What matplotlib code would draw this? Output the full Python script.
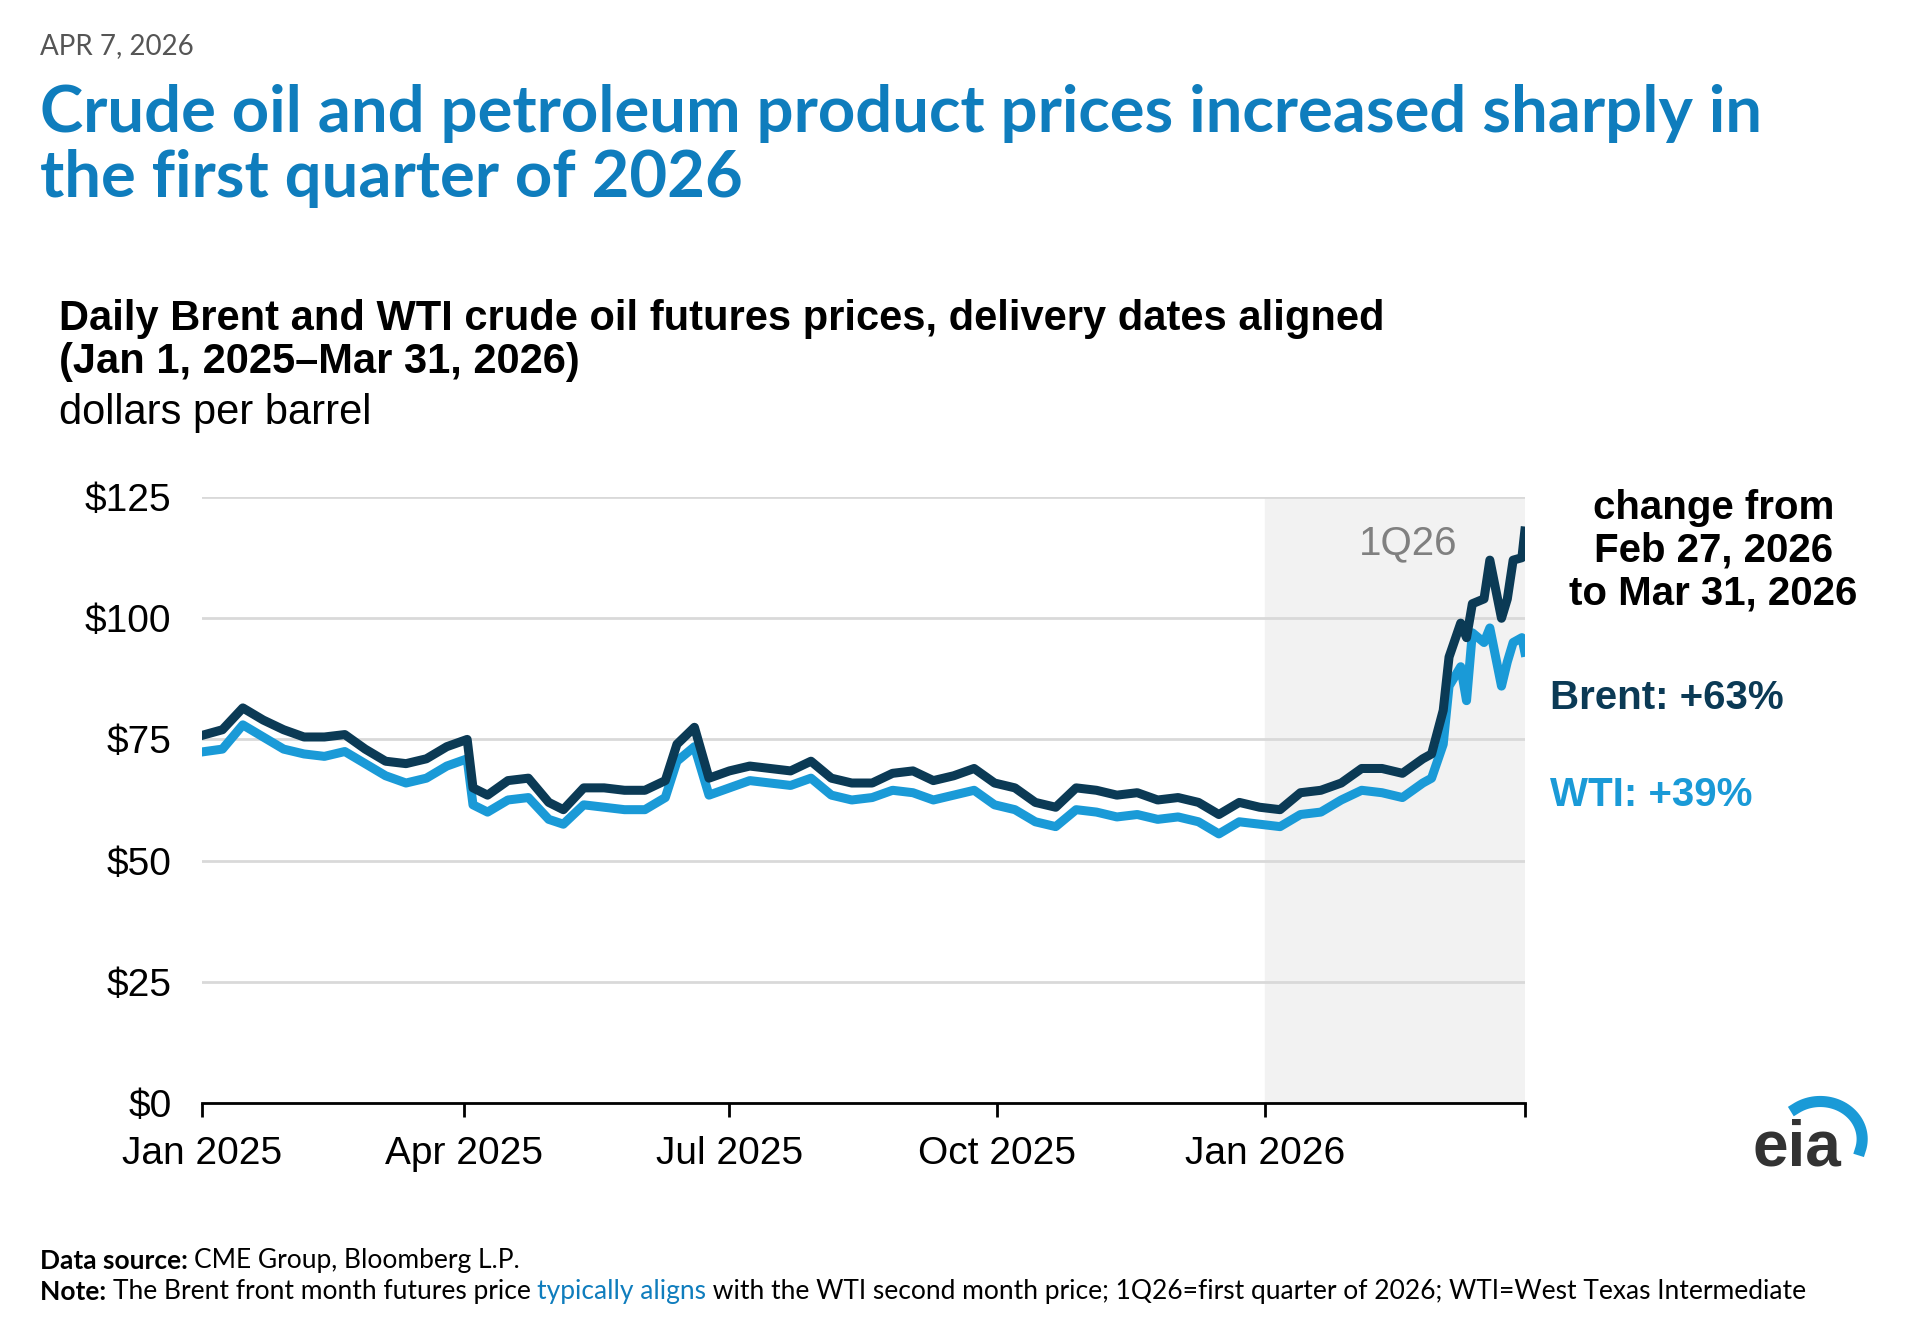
import matplotlib
matplotlib.use("Agg")
import matplotlib.pyplot as plt
import pandas as pd
import numpy as np

# weekly-ish readings off the chart, then daily in March 2026
dates = ["2025-01-02", "2025-01-08", "2025-01-15", "2025-01-22", "2025-01-29", "2025-02-05",
         "2025-02-12", "2025-02-19", "2025-02-26", "2025-03-05", "2025-03-12", "2025-03-19",
         "2025-03-26", "2025-04-02", "2025-04-04", "2025-04-09", "2025-04-16", "2025-04-23",
         "2025-04-30", "2025-05-05", "2025-05-12", "2025-05-19", "2025-05-26", "2025-06-02",
         "2025-06-09", "2025-06-13", "2025-06-19", "2025-06-24", "2025-07-01", "2025-07-08",
         "2025-07-15", "2025-07-22", "2025-07-29", "2025-08-05", "2025-08-12", "2025-08-19",
         "2025-08-26", "2025-09-02", "2025-09-09", "2025-09-16", "2025-09-23", "2025-09-30",
         "2025-10-07", "2025-10-14", "2025-10-21", "2025-10-28", "2025-11-04", "2025-11-11",
         "2025-11-18", "2025-11-25", "2025-12-02", "2025-12-09", "2025-12-16", "2025-12-23",
         "2025-12-30", "2026-01-06", "2026-01-13", "2026-01-20", "2026-01-27", "2026-02-03",
         "2026-02-10", "2026-02-17", "2026-02-24", "2026-02-27", "2026-03-03", "2026-03-05",
         "2026-03-09", "2026-03-11", "2026-03-13", "2026-03-17", "2026-03-19", "2026-03-23",
         "2026-03-25", "2026-03-27", "2026-03-30", "2026-03-31"]
brent = [76.0, 77.0, 81.5, 79.0, 77.0, 75.5, 75.5, 76.0, 73.0, 70.5, 70.0, 71.0,
         73.5, 75.0, 65.0, 63.5, 66.5, 67.0, 62.0, 60.5, 65.0, 65.0, 64.5, 64.5,
         66.5, 74.0, 77.5, 67.0, 68.5, 69.5, 69.0, 68.5, 70.5, 67.0, 66.0, 66.0,
         68.0, 68.5, 66.5, 67.5, 69.0, 66.0, 65.0, 62.0, 61.0, 65.0, 64.5, 63.5,
         64.0, 62.5, 63.0, 62.0, 59.5, 62.0, 61.0, 60.5, 64.0, 64.5, 66.0, 69.0,
         69.0, 68.0, 71.0, 72.0, 81.0, 92.0, 99.0, 96.0, 103.0, 104.0, 112.0, 100.0,
         104.0, 112.0, 112.5, 118.0]
wti = [72.5, 73.0, 78.0, 75.5, 73.0, 72.0, 71.5, 72.5, 70.0, 67.5, 66.0, 67.0,
       69.5, 71.0, 61.5, 60.0, 62.5, 63.0, 58.5, 57.5, 61.5, 61.0, 60.5, 60.5,
       63.0, 70.5, 73.5, 63.5, 65.0, 66.5, 66.0, 65.5, 67.0, 63.5, 62.5, 63.0,
       64.5, 64.0, 62.5, 63.5, 64.5, 61.5, 60.5, 58.0, 57.0, 60.5, 60.0, 59.0,
       59.5, 58.5, 59.0, 58.0, 55.5, 58.0, 57.5, 57.0, 59.5, 60.0, 62.5, 64.5,
       64.0, 63.0, 66.0, 67.0, 74.0, 86.0, 90.0, 83.0, 97.0, 95.0, 98.0, 86.0,
       91.0, 95.0, 96.0, 93.0]

df = pd.DataFrame({"date": pd.to_datetime(dates), "brent": brent, "wti": wti})

plt.rcParams['font.family'] = ['Liberation Sans', 'DejaVu Sans']
LATO = ["Lato", "DejaVu Sans"]
fig = plt.figure(figsize=(19.06, 13.4), dpi=100)
ax = fig.add_axes([0.106, 0.177, 0.694, 0.452])

ax.axvspan(pd.Timestamp("2026-01-01"), pd.Timestamp("2026-03-31"), color="#f2f2f2", zorder=0)
ax.plot(df["date"], df["wti"], color="#1a9ad7", linewidth=6.5, zorder=3)
ax.plot(df["date"], df["brent"], color="#0b3a55", linewidth=6.5, zorder=4)

ax.set_xlim(pd.Timestamp("2025-01-01"), pd.Timestamp("2026-03-31"))
ax.set_ylim(0, 125)
ax.set_yticks([0, 25, 50, 75, 100, 125])
ax.set_yticklabels(["$0", "$25", "$50", "$75", "$100", "$125"])
ax.grid(axis="y", color="#d9d9d9", linewidth=2)
ax.set_axisbelow(True)
ticks = pd.to_datetime(["2025-01-01", "2025-04-01", "2025-07-01", "2025-10-01", "2026-01-01", "2026-03-31"])
ax.set_xticks(ticks)
ax.set_xticklabels(["Jan 2025", "Apr 2025", "Jul 2025", "Oct 2025", "Jan 2026", ""])
ax.tick_params(axis="x", labelsize=28, length=10, width=2, pad=14)
ax.tick_params(axis="y", labelsize=28, length=0, pad=22)
for s in ["top", "right", "left"]:
    ax.spines[s].set_visible(False)
ax.spines["bottom"].set_linewidth(2)

ax.text(pd.Timestamp("2026-02-19"), 115.5, "1Q26", fontsize=29, color="#808080", ha="center", va="center")

fig.text(0.899, 0.589, "change from\nFeb 27, 2026\nto Mar 31, 2026", fontsize=29, fontweight="bold",
         ha="center", va="center", linespacing=1.15)
fig.text(0.813, 0.479, "Brent: +63%", fontsize=29, fontweight="bold", color="#0b3a55", va="center")
fig.text(0.813, 0.407, "WTI: +39%", fontsize=29, fontweight="bold", color="#1a9ad7", va="center")

fig.text(0.021, 0.966, "APR 7, 2026", fontsize=20, color="#555555", family=LATO, va="center")
fig.text(0.021, 0.891, "Crude oil and petroleum product prices increased sharply in\nthe first quarter of 2026",
         fontsize=47, fontweight="bold", color="#0f7dbd", family=LATO, va="center", linespacing=1.12)
fig.text(0.031, 0.746, "Daily Brent and WTI crude oil futures prices, delivery dates aligned\n(Jan 1, 2025\u2013Mar 31, 2026)",
         fontsize=30, fontweight="bold", va="center", linespacing=1.1)
fig.text(0.031, 0.692, "dollars per barrel", fontsize=30, va="center")

# footer pieces placed one after another
renderer = fig.canvas.get_renderer()
def run(parts, y):
    x = 0.021
    for txt, kw in parts:
        t = fig.text(x, y, txt, fontsize=19, family=LATO, va="center", **kw)
        bb = t.get_window_extent(renderer=renderer)
        x += bb.width / fig.bbox.width
run([("Data source: ", {"fontweight": "bold"}), ("CME Group, Bloomberg L.P.", {})], 0.059)
run([("Note: ", {"fontweight": "bold"}), ("The Brent front month futures price ", {}),
     ("typically aligns", {"color": "#0f7dbd"}),
     (" with the WTI second month price; 1Q26=first quarter of 2026; WTI=West Texas Intermediate", {})], 0.036)

# eia logo approximation
fig.text(0.943, 0.143, "eia", fontsize=46, fontweight="bold", color="#333333", ha="center", va="center")
theta = np.linspace(-0.3, 2.2, 50)
lx = 0.955 + 0.022 * np.cos(theta)
ly = 0.150 + 0.028 * np.sin(theta)
fig.add_artist(plt.Line2D(lx, ly, transform=fig.transFigure, color="#1a9ad7", linewidth=8))

fig.savefig("out.png", dpi=100)
